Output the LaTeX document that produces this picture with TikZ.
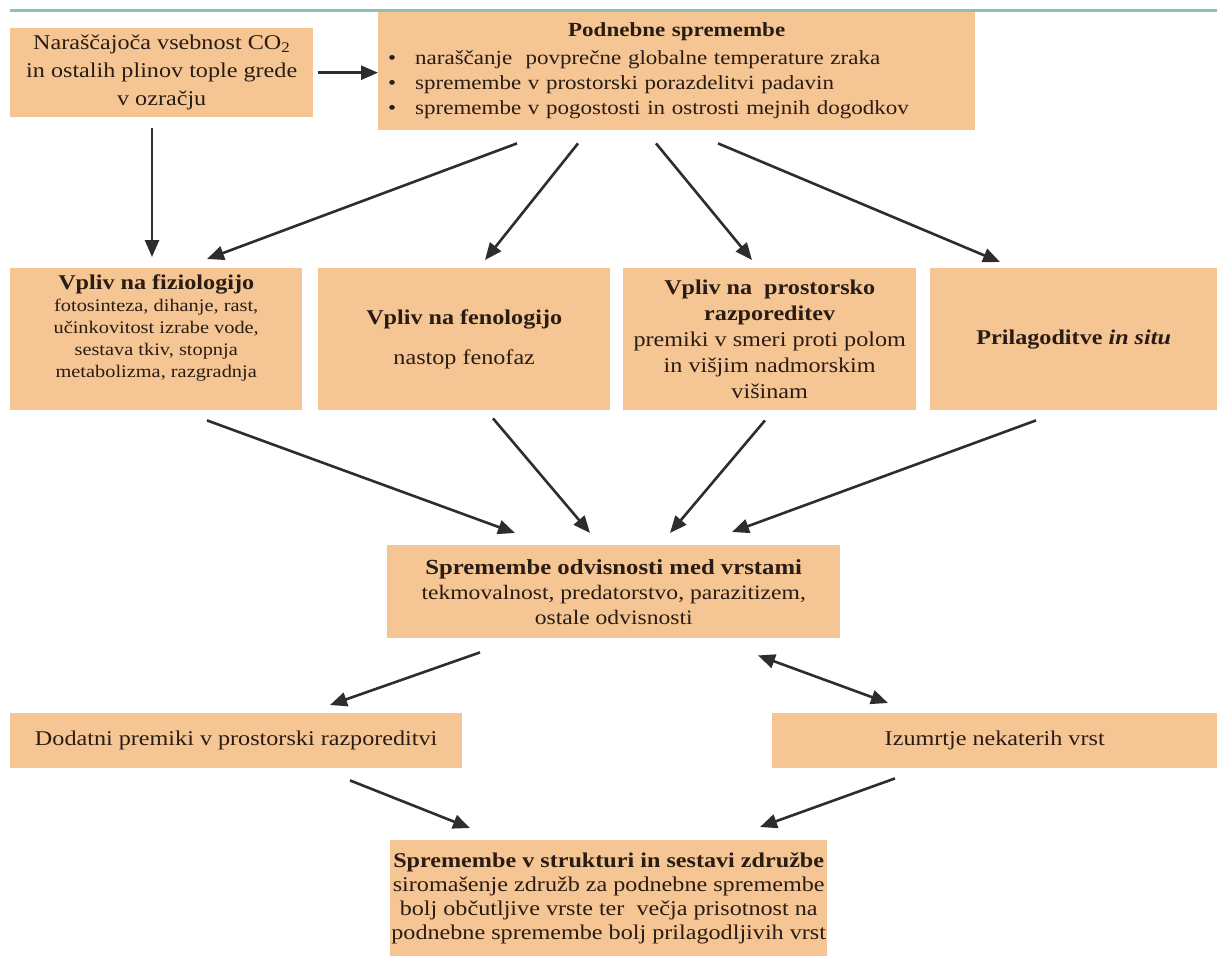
\documentclass[tikz,border=0pt]{standalone}
\usepackage{fontspec}
\setmainfont{Liberation Serif}[FakeStretch=1.15]
\usetikzlibrary{arrows.meta,calc}
\definecolor{boxfill}{RGB}{246,197,148}
\definecolor{txtc}{RGB}{40,28,20}
\definecolor{arrc}{RGB}{45,45,45}
\definecolor{rulec}{RGB}{140,192,186}
\newcommand\fs[2]{\fontsize{#1}{#2}\selectfont}
\newcommand\bul{\makebox[27pt][l]{\textbullet}}
\newcommand\topbox[4]{\parbox[c][#2][t]{#1}{\centering\vspace*{#3}#4\par}}
\begin{document}
\begin{tikzpicture}[x=1pt,y=-1pt,
  box/.style={fill=boxfill,draw=none,inner sep=0pt,anchor=north west,align=center,text=txtc},
  arr/.style={draw=arrc,line width=2.6pt,-{Triangle[length=17pt,width=14pt]}},
  darr/.style={draw=arrc,line width=2.6pt,{Triangle[length=17pt,width=14pt]}-{Triangle[length=17pt,width=14pt]}}]
\path[use as bounding box] (0,0) rectangle (1217,956);
\fill[white] (0,0) rectangle (1217,956);
\draw[rulec,line width=2.5pt] (10,10.5) -- (1217,10.5);

\node[box,minimum width=303pt,minimum height=89pt,font=\fs{21}{28}] (A) at (10,28)
  {Naraščajoča vsebnost CO\textsubscript{2}\\in ostalih plinov tople grede\\v ozračju};

\node[box,minimum width=597pt,minimum height=118pt,text width=577pt,align=left,font=\fs{20}{25}] (B) at (378,12)
  {{\centering\bfseries Podnebne spremembe\par}\vspace{3pt}%
   \bul naraščanje\ \ povprečne globalne temperature zraka\par
   \bul spremembe v prostorski porazdelitvi padavin\par
   \bul spremembe v pogostosti in ostrosti mejnih dogodkov};

\node[box,minimum width=292pt,minimum height=142pt,font=\fs{17.7}{22}] (C) at (10,268)
  {\topbox{292pt}{142pt}{6.5pt}{{\fontsize{21}{22}\selectfont\bfseries Vpliv na fiziologijo\par}%
   fotosinteza, dihanje, rast,\par učinkovitost izrabe vode,\par sestava tkiv, stopnja\par metabolizma, razgradnja}};

\node[box,minimum width=292pt,minimum height=142pt,font=\fs{21}{22}] (D) at (318,268)
  {\textbf{Vpliv na fenologijo}\\[18pt]nastop fenofaz};

\node[box,minimum width=293pt,minimum height=142pt,font=\fs{21}{26}] (E) at (623,268)
  {\textbf{Vpliv na\ \ prostorsko}\\\textbf{razporeditev}\\premiki v smeri proti polom\\in višjim nadmorskim\\višinam};

\node[box,minimum width=287pt,minimum height=142pt,font=\fs{21}{25}] (F) at (930,268)
  {\textbf{Prilagoditve \textit{in situ}}};

\node[box,minimum width=453pt,minimum height=93pt,font=\fs{20.5}{25}] (G) at (387,545)
  {{\fontsize{21.5}{25}\selectfont\textbf{Spremembe odvisnosti med vrstami}}\\tekmovalnost, predatorstvo, parazitizem,\\ostale odvisnosti};

\node[box,minimum width=452pt,minimum height=55pt,font=\fs{21}{25}] (H) at (10,713)
  {Dodatni premiki v prostorski razporeditvi};

\node[box,minimum width=445pt,minimum height=55pt,font=\fs{21}{25}] (I) at (772,713)
  {Izumrtje nekaterih vrst};

\node[box,minimum width=437pt,minimum height=116pt,font=\fs{21}{24}] (J) at (390,840)
  {\textbf{Spremembe v strukturi in sestavi združbe}\\siromašenje združb za podnebne spremembe\\bolj občutljive vrste ter\ \ večja prisotnost na\\podnebne spremembe bolj prilagodljivih vrst};

% connectors
\draw[arr] ([xshift=5pt]A.east) -- (A.east -| B.west);
\draw[arr] ($(A.south west)+(142,11)$) -- ($(C.north west)+(142,-11)$);
\draw[arr] ($(B.south west)+(139,13)$) -- ($(C.north west)+(197,-9)$);
\draw[arr] ($(B.south west)+(200,13)$) -- ($(D.north west)+(167,-8)$);
\draw[arr] ($(B.south west)+(278,13)$) -- ($(E.north west)+(129,-8)$);
\draw[arr] ($(B.south west)+(340,13)$) -- ($(F.north west)+(70,-6)$);
\draw[arr] ($(C.south west)+(197,10)$) -- ($(G.north west)+(128,-12)$);
\draw[arr] ($(D.south west)+(175,8)$) -- ($(G.north west)+(203,-12)$);
\draw[arr] ($(E.south west)+(142,10)$) -- ($(G.north west)+(283,-12)$);
\draw[arr] ($(F.south west)+(106,10)$) -- ($(G.north west)+(345,-13)$);
\draw[arr] ($(G.south west)+(93,14)$) -- ($(H.north west)+(320,-8)$);
\draw[darr] ($(G.south west)+(371,17)$) -- ($(I.north west)+(116,-10)$);
\draw[arr] ($(H.south west)+(340,12)$) -- ($(J.north west)+(80,-12)$);
\draw[arr] ($(I.south west)+(123,10)$) -- ($(J.north west)+(370,-13)$);
\end{tikzpicture}
\end{document}
